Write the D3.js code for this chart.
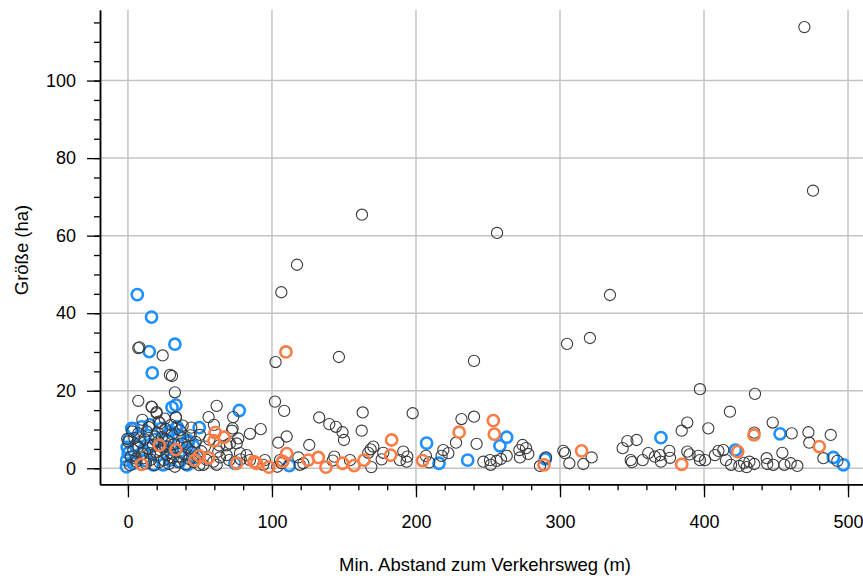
<!DOCTYPE html>
<html><head><meta charset="utf-8">
<script src="https://cdn.jsdelivr.net/npm/d3@7"></script>
<style>body{margin:0;background:#fff} text{font-family:"Liberation Sans",Arial,sans-serif;fill:#000}</style>
</head><body><svg id="c" width="863" height="578"></svg>
<script>
const xTicks=[0,100,200,300,400,500];
const yTicks=[0,20,40,60,80,100];
const xMinor=d3.range(0,501,20);
const yMinor=d3.range(0,116,5);
const xTitle="Min. Abstand zum Verkehrsweg (m)";
const yTitle="Größe (ha)";

const grayPts=[
[469.7,113.8],[475.7,71.6],[162.5,65.4],[256.3,60.7],[117.4,52.5],[106.5,45.4],[334.7,44.7],[146.5,28.7],[240.3,27.7],[320.8,33.6],[304.9,32.1],[102.5,27.4],
[7.2,31.0],[8.0,31.2],[24.1,29.1],[29.2,24.1],[30.6,23.8],[32.6,19.6],[7.2,17.4],[16.7,15.8],[19.9,14.5],[21.3,12.0],[33.3,13.1],[61.6,16.1],[56,13.2],[59.7,11.2],[73.1,13.2],[72.7,10.3],[84.7,8.9],[92.2,10.1],[76.6,7.7],[72.2,9.7],[68.5,5.9],[63.4,5.9],
[102.1,17.2],[108.5,14.8],[110.2,8.2],[104.4,6.6],
[125.9,6.0],[132.8,13.1],[139.8,11.4],[144.4,10.7],[149,9.3],[150,7.3],[163,14.4],[162.3,9.7],[170.4,5.6],[168.5,4.9],[166.9,4.0],[169,0.3],[176.2,2.3],[177.3,4.0],[143.3,3.0],[142.2,2.0],[118.3,2.8],[119.4,0.9],[105.6,2.1],[103.7,0.4],[77.8,3.9],[78.3,2.3],[68.5,3.4],[70.3,2.1],[63.9,2.8],[59.3,1.7],[61.6,0.9],[52.3,0.9],[50,8.6],[53.5,5.6],[62.7,4.3],[70.8,6.4],[75.5,6.4],[84.7,2.1],[82.4,3.4],[95.1,2.1],[94,0.9],[106.7,1.3],[121.8,1.3],[154.2,2.1],
[197.7,14.2],[231.6,12.7],[240.3,13.3],[227.8,6.6],[242.1,6.3],[219,4.7],[222.5,3.9],[217.8,3.2],[191.2,4.3],[194,3.0],[193.5,1.7],[188.9,2.1],[206.9,3.2],[209.2,1.5],[246.8,1.7],[251.4,2.1],[251.9,0.9],[256,1.9],[259,2.4],[263,3.2],[271.8,4.7],[274,6.0],[276.4,5.2],[272.2,2.8],[278,3.7],[286.1,0.6],[290.3,2.8],[302.3,4.5],[303.5,3.9],[306.5,1.3],[316.2,1.1],[322,2.8],
[397.2,20.4],[435.4,19.2],[418,14.6],[388.4,11.8],[384.5,9.7],[403,10.3],[447.7,11.8],[460.9,9.0],[472.5,9.3],[488,8.6],[473.1,6.6],[434.9,9.2],[346.8,7.0],[353.2,7.3],[343.5,5.2],[349.1,2.1],[350,1.6],[357.4,2.1],[361.3,3.9],[365.9,3.0],[369.4,3.4],[370.1,1.7],[375.9,4.5],[376.4,2.7],[388.4,4.3],[390,3.6],[396.1,3.2],[397.2,2.1],[400.7,2.1],[407.6,3.4],[410,4.5],[413.4,4.7],[415.3,2.1],[418.8,0.9],[424.5,0.6],[427.8,1.4],[429.6,0.3],[431.5,1.7],[434.9,1.1],[443.5,2.6],[443.9,1.1],[448.1,0.9],[454.4,4.0],[455.8,0.9],[460.2,1.3],[464.8,0.6],[482.9,2.6],[492.6,1.9],
[0.2,6.9],[-0.5,7.6],[7.2,9.0],[3.7,4.7],[13,9.5],[18.8,8.2],[22.2,4.7],[15.3,3.9],[10.6,2.6],[26.9,3.4],[32.6,0.4],[39.6,3.4],[28,5.6],[37.3,6.4],[21,6.9],[7.2,5.6],[6,1.7],[22.2,11.6],[16.4,15.9],[19.9,14.2],[33.3,13.2],
[2,3.0],[4.5,7.8],[5.5,2.5],[8.5,6.8],[9.8,3.8],[11.5,7.5],[12.5,1.2],[13.8,5.2],[14.5,10.6],[16,2.2],[17.5,6.1],[18.5,0.8],[19.5,4.1],[20.5,9.2],[21.8,1.6],[23.5,8.0],[24.2,5.4],[25,2.1],[26,10.2],[27.5,7.1],[28.5,1.1],[29.5,4.0],[30.5,8.8],[31.2,2.7],[32,6.2],[34,4.8],[35,1.5],[36,9.8],[37,3.0],[38.5,7.9],[40,1.0],[41,5.5],[42.5,2.4],[43.5,8.5],[44.5,4.2],[45.5,1.6],[47,6.8],[48,3.1],[49.5,0.8],[51,4.4],[54.5,2.2],[56.5,7.4],[3.0,9.5],[10.0,12.5],[25.5,12.8],[30.0,11.2],[38,11.0],[44,10.5],[1.5,0.8]
];
const bluePts=[
[0.9,7.5],[-0.9,2.1],[0.2,3.9],[2.6,10.3],[9.5,10.7],[15.3,11.2],[23.4,10.3],[29.2,9.5],[34.9,8.6],[41.9,7.1],[42.6,4.7],[36.1,4.3],[29.2,2.1],[24.5,0.9],[17.6,0.9],[3.7,1.3],[10.6,4.7],[15.3,6.0],[8.3,8.2],[34.2,10.7],[28,7.3],[36.1,1.7],[41.2,0.9],[-1,0.4],[3.7,10.2],[33.3,10.3],[41.9,6.7],[5.5,6.0],[12,2.0],[20,3.2],[26,5.6],[46,2.8],[-0.5,5.4],[31,5.0],[19,7.4],[45.5,5.8],
[6.5,44.8],[16.4,39.0],[14.8,30.1],[32.6,32.0],[16.9,24.6],[30.6,15.7],[33.3,16.3],[77.3,14.9],[49.5,10.5],[207.4,6.5],[235.9,2.1],[216,1.3],[258.3,5.8],[263,8.0],[289.8,2.4],[370.1,7.9],[421.8,4.7],[452.8,8.9],[489.8,2.8],[496.8,0.9],[112,0.7],[74.3,1.3]
];
const orangePts=[
[109.7,30.0],[21.8,5.9],[33.3,4.8],[9.5,1.0],[60.6,9.2],[59.7,7.1],[66.7,8.0],[49.5,3.2],[46.5,2.1],[56,2.7],[75.5,1.3],[87.5,1.7],[89.4,1.3],[97.9,0.3],[107.5,1.8],[110.2,3.8],[125.2,2.1],[132.2,2.8],[137.5,0.3],[149,1.3],[157,0.7],[163.9,2.1],[183.1,7.3],[182.4,3.4],[204.6,2.0],[230,9.3],[253.7,12.3],[254.4,8.8],[288.9,0.9],[315,4.5],[384.5,1.0],[423.4,4.3],[434.7,8.6],[480,5.6]
];

const svg=d3.select("#c");
const x=d3.scaleLinear().domain([-19.4,510.4]).range([100,863]);
const y=d3.scaleLinear().domain([-4.13,118.2]).range([484.3,10]);
const gridC="#c4c4c4";

// grid
svg.append("g").selectAll("line").data(xTicks).join("line")
  .attr("x1",d=>x(d)).attr("x2",d=>x(d)).attr("y1",y.range()[1]).attr("y2",y.range()[0])
  .attr("stroke",gridC).attr("stroke-width",1.5);
svg.append("g").selectAll("line").data(yTicks).join("line")
  .attr("y1",d=>y(d)).attr("y2",d=>y(d)).attr("x1",x.range()[0]).attr("x2",x.range()[1])
  .attr("stroke",gridC).attr("stroke-width",1.5);

// axes
const fs="18px";
const xMinorAx=svg.append("g").attr("transform",`translate(0,${y.range()[0]})`)
  .call(d3.axisBottom(x).tickValues(xMinor).tickSize(6).tickFormat("").tickSizeOuter(0));
const xAx=svg.append("g").attr("transform",`translate(0,${y.range()[0]})`)
  .call(d3.axisBottom(x).tickValues(xTicks).tickSize(13).tickPadding(18).tickSizeOuter(0));
const yMinorAx=svg.append("g").attr("transform",`translate(${x.range()[0]},0)`)
  .call(d3.axisLeft(y).tickValues(yMinor).tickSize(6).tickFormat("").tickSizeOuter(0));
const yAx=svg.append("g").attr("transform",`translate(${x.range()[0]},0)`)
  .call(d3.axisLeft(y).tickValues(yTicks).tickSize(13).tickPadding(11).tickSizeOuter(0));
[xMinorAx,xAx,yMinorAx,yAx].forEach(g=>{
  g.selectAll("line").attr("stroke","#000").attr("stroke-width",1.3);
  g.select(".domain").attr("stroke","#000").attr("stroke-width",1.5);
  g.selectAll("text").style("font-size",fs).style("font-family",'"Liberation Sans",Arial,sans-serif').attr("fill","#000");
});

// titles
svg.append("text").attr("x",485).attr("y",571).attr("text-anchor","middle")
  .style("font-size","18.5px").text(xTitle);
svg.append("text").attr("transform","translate(28,250) rotate(-90)").attr("text-anchor","middle")
  .style("font-size","18.5px").text(yTitle);

// points
const r=5.6;
function draw(data,color,w){
  svg.append("g").selectAll("circle").data(data).join("circle")
    .attr("cx",d=>x(d[0])).attr("cy",d=>y(d[1])).attr("r",r)
    .attr("fill","none").attr("stroke",color).attr("stroke-width",w);
}
draw(bluePts,"#1e90ff",2.6);
draw(grayPts,"#3a3a3a",1.1);
draw(orangePts,"#fa7d45",2.6);
</script></body></html>
